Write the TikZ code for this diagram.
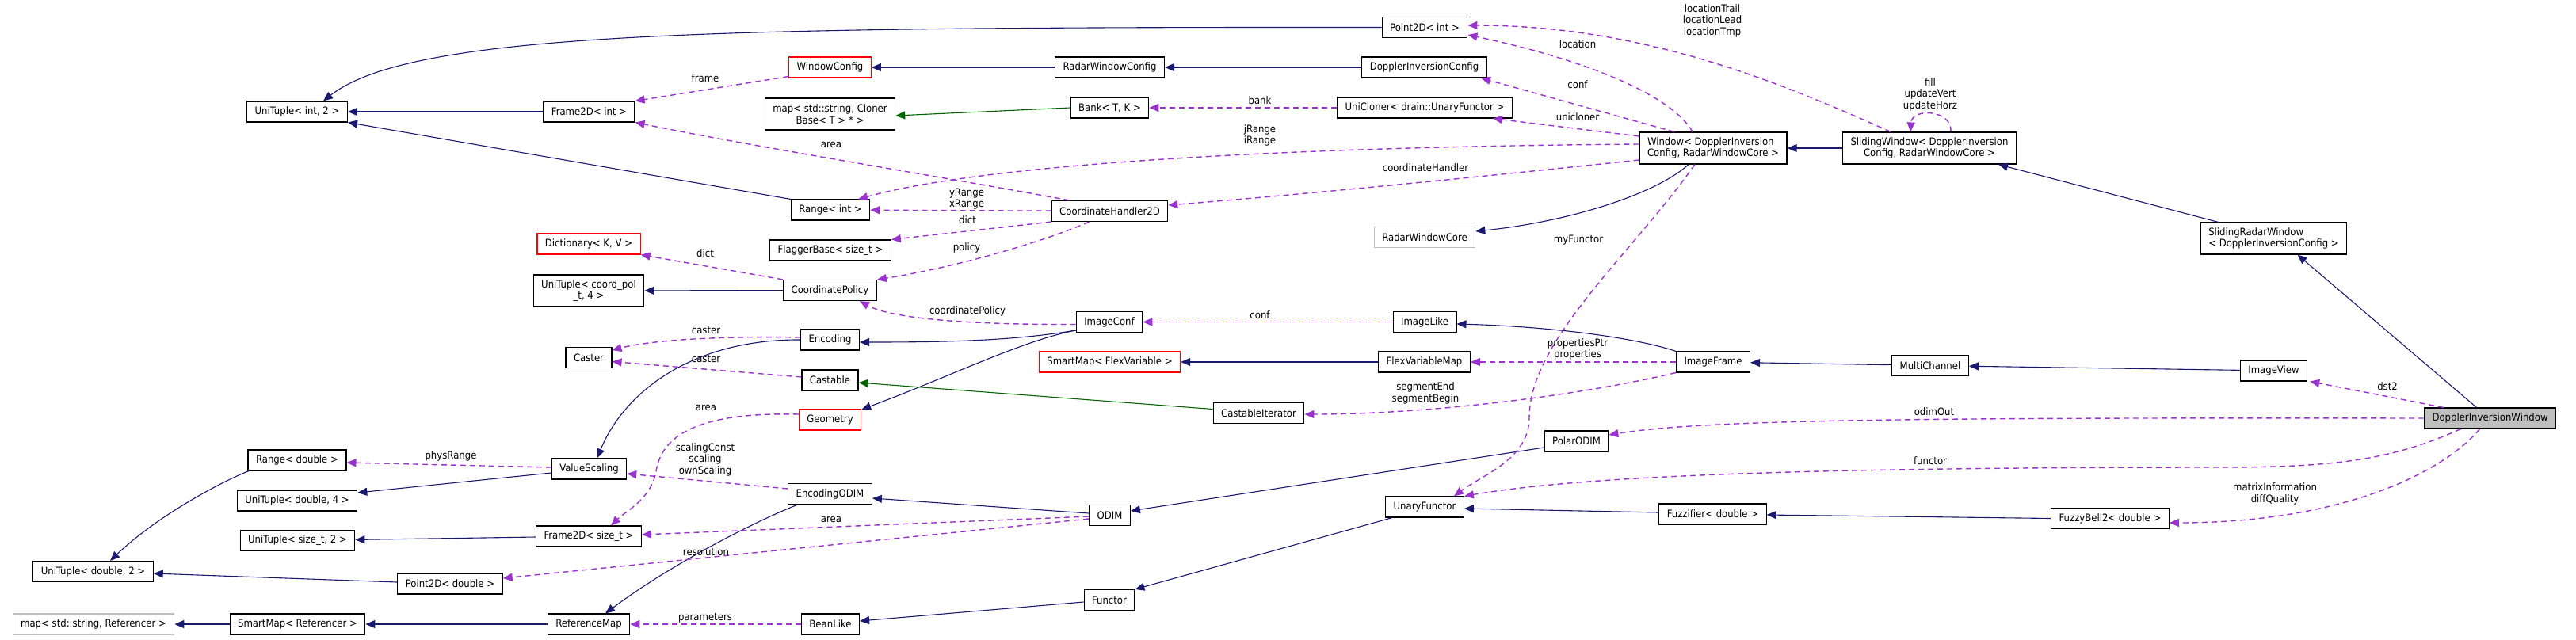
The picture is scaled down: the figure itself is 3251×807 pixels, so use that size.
\documentclass[tikz,border=0pt]{standalone}
\usepackage{fontspec}
\setmainfont{DejaVu Sans Condensed}
\usetikzlibrary{arrows.meta}
\definecolor{cInh}{HTML}{191970}
\definecolor{cProt}{HTML}{006400}
\definecolor{cUse}{HTML}{9A32CD}
\definecolor{cGrey}{HTML}{BFBFBF}

\begin{document}
\begin{tikzpicture}[x=1pt, y=-1pt,
  font=\fontsize{13}{14.5}\selectfont,
  cls/.style={draw=black, line width=1.1pt, fill=white, inner xsep=10pt, inner ysep=0pt,
    minimum height=26pt, align=center},
  cls2/.style={cls, minimum height=40pt},
  clsred/.style={cls, draw=red},
  clsgrey/.style={cls, draw=cGrey},
  clsmain/.style={cls, fill=cGrey},
  inh/.style={draw=cInh, line width=1.1pt, -{Triangle[length=12pt, width=10pt]}},
  prot/.style={inh, draw=cProt, -{Triangle[length=12pt, width=10pt, fill=cProt]}},
  use/.style={draw=cUse, line width=1.4pt, dash pattern=on 7pt off 5pt,
    -{Triangle[length=12pt, width=10pt, fill=cUse, sep=0pt]}},
  lbl/.style={inner sep=0pt, align=center},
]
\useasboundingbox (0,0) rectangle (3251,807);

% classes
\node[cls] (ut_int2) at (375,141) {UniTuple< int, 2 >};
\node[cls] (fr_int) at (743.5,141) {Frame2D< int >};
\node[cls] (pt_int) at (1798,34.5) {Point2D< int >};
\node[clsred] (wincfg) at (1047.5,85) {WindowConfig};
\node[cls] (rwincfg) at (1400.5,85) {RadarWindowConfig};
\node[cls] (dicfg) at (1797.5,85) {DopplerInversionConfig};
\node[clsgrey, cls2] (mapcl) at (1047.5,144) {map< std::string, Cloner\\Base< T > * >};
\node[cls] (bank) at (1400.5,136) {Bank< T, K >};
\node[cls] (unicl) at (1798,136) {UniCloner< drain::UnaryFunctor >};
\node[cls2, align=left] (win) at (2162,187) {Window< DopplerInversion\\Config, RadarWindowCore >};
\node[cls2] (swin) at (2435,187) {SlidingWindow< DopplerInversion\\Config, RadarWindowCore >};
\node[cls] (rng_int) at (1048,265) {Range< int >};
\node[cls] (ch2d) at (1400.5,266.5) {CoordinateHandler2D};
\node[cls] (flag) at (1048,316) {FlaggerBase< size\_t >};
\node[clsred] (dict) at (743,308) {Dictionary< K, V >};
\node[cls2] (utcoord) at (743,367) {UniTuple< coord\_pol\\\_t, 4 >};
\node[cls] (cpol) at (1047.5,366.5) {CoordinatePolicy};
\node[clsgrey] (rwcore) at (1798,299.5) {RadarWindowCore};
\node[cls] (imgconf) at (1400,406.5) {ImageConf};
\node[cls] (imglike) at (1798,406.5) {ImageLike};
\node[cls] (enc) at (1047.5,429) {Encoding};
\node[cls] (caster) at (743,451.5) {Caster};
\node[cls] (castable) at (1047.5,480) {Castable};
\node[clsred] (smflex) at (1400.5,457) {SmartMap< FlexVariable >};
\node[cls] (flexmap) at (1797.5,457) {FlexVariableMap};
\node[cls] (imgfr) at (2162,457) {ImageFrame};
\node[cls] (multi) at (2436,461.5) {MultiChannel};
\node[cls] (imgview) at (2869.5,468) {ImageView};
\node[cls2, align=left] (srwin) at (2869.5,301) {SlidingRadarWindow\\< DopplerInversionConfig >};
\node[clsmain] (diw) at (3142.5,528) {DopplerInversionWindow};
\node[clsred] (geom) at (1047.5,530) {Geometry};
\node[cls] (castit) at (1588.5,521.5) {CastableIterator};
\node[cls] (podim) at (1989.5,557) {PolarODIM};
\node[cls] (rng_d) at (375,581) {Range< double >};
\node[cls] (valsc) at (743.5,592) {ValueScaling};
\node[cls] (ut_d4) at (375,632) {UniTuple< double, 4 >};
\node[cls] (ut_sz2) at (375.5,682.5) {UniTuple< size\_t, 2 >};
\node[cls] (fr_sz) at (743,677) {Frame2D< size\_t >};
\node[cls] (ut_d2) at (117.5,721.5) {UniTuple< double, 2 >};
\node[cls] (pt_d) at (568,737) {Point2D< double >};
\node[clsgrey] (mapref) at (118,788) {map< std::string, Referencer >};
\node[cls] (smref) at (375.5,788) {SmartMap< Referencer >};
\node[cls] (refmap) at (743,788) {ReferenceMap};
\node[cls] (encodim) at (1047.5,623.5) {EncodingODIM};
\node[cls] (odim) at (1400.5,650.5) {ODIM};
\node[cls] (functor) at (1400,757.5) {Functor};
\node[cls] (bean) at (1048,788) {BeanLike};
\node[cls] (unary) at (1798,640) {UnaryFunctor};
\node[cls] (fuzz) at (2161.5,649) {Fuzzifier< double >};
\node[cls] (fbell) at (2663,654.5) {FuzzyBell2< double >};

% inheritance
\draw[inh] (pt_int.west) .. controls (900,34) and (520,40) .. ([xshift=33pt]ut_int2.north);
\draw[inh] (fr_int) -- (ut_int2);
\draw[inh] (rng_int.north west) -- (ut_int2.south east);
\draw[inh] (rwincfg) -- (wincfg);
\draw[inh] (dicfg) -- (rwincfg);
\draw[prot] (bank.west) -- ([yshift=-2pt]mapcl.east);
\draw[inh] (swin) -- (win);
\draw[inh] ([xshift=23pt]srwin.north west) -- ([xshift=87pt]swin.south);
\draw[inh] ([xshift=-17pt]diw.north) -- ([xshift=30pt]srwin.south);
\draw[inh] ([xshift=-31pt]win.south) .. controls (2090,245) and (1980,280) .. ([yshift=7.5pt]rwcore.east);
\draw[inh] (cpol) -- (utcoord);
\draw[inh] ([yshift=-10.5pt]imgconf.west) .. controls (1280,430) and (1200,432) .. ([yshift=-3pt]enc.east);
\draw[inh] ([yshift=-10.5pt]imgconf.west) .. controls (1290,430) and (1200,475) .. ([yshift=13pt]geom.east);
\draw[inh] (enc.west) .. controls (880,428) and (790,490) .. ([xshift=10pt]valsc.north);
\draw[inh] ([xshift=-47pt]imgfr.north) .. controls (2060,425) and (1950,412) .. ([yshift=-2.5pt]imglike.east);
\draw[inh] (flexmap) -- (smflex);
\draw[prot] ([yshift=5pt]castit.west) -- ([yshift=-3pt]castable.east);
\draw[inh] (multi) -- (imgfr);
\draw[inh] (imgview) -- (multi);
\draw[inh] ([yshift=-5pt]valsc.west) -- ([yshift=10pt]ut_d4.east);
\draw[inh] ([xshift=-61pt]rng_d.south) .. controls (280,608) and (200,650) .. ([xshift=21.5pt]ut_d2.north);
\draw[inh] (fr_sz) -- (ut_sz2);
\draw[inh] ([yshift=2pt]pt_d.west) -- ([yshift=-2.5pt]ut_d2.east);
\draw[inh] (smref) -- (mapref);
\draw[inh] (refmap) -- (smref);
\draw[inh] ([xshift=-40.5pt]encodim.south) .. controls (960,655) and (850,710) .. ([xshift=21pt]refmap.north);
\draw[inh] ([yshift=2.5pt]odim.west) -- ([yshift=-5.5pt]encodim.east);
\draw[inh] ([yshift=-8pt]podim.west) -- ([yshift=5.5pt]odim.east);
\draw[inh] ([xshift=9pt]unary.south west) -- (functor.north east);
\draw[inh] ([yshift=-2.5pt]functor.west) -- ([yshift=4pt]bean.east);
\draw[inh] ([yshift=2pt]fuzz.west) -- ([yshift=-2pt]unary.east);
\draw[inh] (fbell.west) -- ([yshift=-1pt]fuzz.east);

% members
\draw[use] ([yshift=2pt]wincfg.south west) -- (fr_int.north east);
\draw[use] ([xshift=-51pt]ch2d.north) .. controls (1200,225) and (950,185) .. (fr_int.south east);
\draw[use] ([xshift=-26pt]win.north) .. controls (2110,120) and (2000,75) .. ([yshift=-9.5pt]pt_int.east);
\draw[use] ([xshift=-49pt]swin.north) .. controls (2260,110) and (2080,32) .. ([yshift=2.5pt]pt_int.east);
\draw[use] ([xshift=-49pt]win.north) -- ([xshift=71.5pt]dicfg.south);
\draw[use] ([yshift=15pt]win.west) -- ([xshift=-25pt]unicl.south east);
\draw[use] (unicl) -- (bank);
\draw[use] ([yshift=5pt]win.west) .. controls (1650,185) and (1250,205) .. ([xshift=-15pt]rng_int.north east);
\draw[use] ([yshift=-15pt]win.west) .. controls (1850,225) and (1650,245) .. ([yshift=7.5pt]ch2d.east);
\draw[use] (ch2d) -- (rng_int);
\draw[use] (ch2d.south west) -- (flag.north east);
\draw[use] ([xshift=-26pt]ch2d.south) .. controls (1330,300) and (1220,335) .. (cpol.north east);
\draw[use] (cpol.north west) -- (dict.south east);
\draw[use] ([yshift=-3pt]imgconf.west) .. controls (1250,410) and (1130,405) .. ([xshift=37.5pt]cpol.south);
\draw[use] (imglike) -- (imgconf);
\draw[use] ([yshift=3pt]enc.west) .. controls (900,424) and (820,430) .. ([yshift=9.5pt]caster.east);
\draw[use] ([yshift=4pt]castable.west) -- ([yshift=-5pt]caster.east);
\draw[use] (imgfr) -- (flexmap);
\draw[use] ([xshift=-47pt]imgfr.south) .. controls (1990,500) and (1800,523) .. ([yshift=-1.5pt]castit.east);
\draw[use] ([xshift=-23pt]win.south) .. controls (2060,320) and (1930,430) .. (1930,527)
  .. controls (1930,580) and (1870,600) .. ([xshift=37pt]unary.north);
\draw[use] ([xshift=25pt]diw.north west) -- ([xshift=3pt]imgview.south east);
\draw[use] (diw.west) .. controls (2400,527) and (2150,530) .. ([yshift=8pt]podim.east);
\draw[use] ([xshift=-37pt]diw.south) .. controls (3020,580) and (2950,590) .. (2800,590)
  .. controls (2300,590) and (2000,600) .. (unary.north east);
\draw[use] ([xshift=-13pt]diw.south) .. controls (3080,600) and (2950,660) .. ([yshift=-5.5pt]fbell.east);
\draw[use] ([yshift=6.5pt]encodim.west) -- ([yshift=-6pt]valsc.east);
\draw[use] ([yshift=7pt]geom.west) .. controls (880,520) and (835,550) .. (828,595)
  .. controls (822,630) and (790,645) .. ([xshift=28pt]fr_sz.north);
\draw[use] ([yshift=-1.5pt]odim.west) -- ([yshift=2pt]fr_sz.east);
\draw[use] ([yshift=-4.5pt]odim.west) -- ([yshift=7pt]pt_d.east);
\draw[use] (bean) -- (refmap);
\draw[use] ([yshift=2pt]valsc.west) -- ([yshift=-3pt]rng_d.east);
\draw[use] ([xshift=27pt]swin.north) .. controls (2464,138) and (2413,136) .. ([xshift=-24pt]swin.north);

% member labels
\node[lbl] (l_frame) at (890,99) {frame};
\node[lbl] (l_area1) at (1049,183) {area};
\node[lbl] (l_loc) at (1991,56) {location};
\node[lbl] (l_loctr) at (2161,26) {locationTrail\\locationLead\\locationTmp};
\node[lbl] (l_conf1) at (1991,107) {conf};
\node[lbl] (l_unicl) at (1991,148) {unicloner};
\node[lbl] (l_bank) at (1590,127) {bank};
\node[lbl] (l_ijrng) at (1590,171) {jRange\\iRange};
\node[lbl] (l_coordh) at (1799,212) {coordinateHandler};
\node[lbl] (l_xyrng) at (1220,251) {yRange\\xRange};
\node[lbl] (l_dict1) at (1221,278) {dict};
\node[lbl] (l_policy) at (1220,313) {policy};
\node[lbl] (l_dict2) at (890,320) {dict};
\node[lbl] (l_cpol) at (1221,393) {coordinatePolicy};
\node[lbl] (l_conf2) at (1590,398) {conf};
\node[lbl] (l_cast1) at (891,417) {caster};
\node[lbl] (l_cast2) at (891,453) {caster};
\node[lbl] (l_props) at (1991,441) {propertiesPtr\\properties};
\node[lbl] (l_seg) at (1799,496.5) {segmentEnd\\segmentBegin};
\node[lbl] (l_myfun) at (1992,303) {myFunctor};
\node[lbl] (l_dst) at (3013,488) {dst2};
\node[lbl] (l_odim) at (2441,520) {odimOut};
\node[lbl] (l_fun) at (2436,582) {functor};
\node[lbl] (l_matrix) at (2871,623.5) {matrixInformation\\diffQuality};
\node[lbl] (l_scal) at (890,580) {scalingConst\\scaling\\ownScaling};
\node[lbl] (l_area2) at (891,515) {area};
\node[lbl] (l_area3) at (1049,656) {area};
\node[lbl] (l_res) at (891,697) {resolution};
\node[lbl] (l_param) at (890,780) {parameters};
\node[lbl] (l_phys) at (569,576) {physRange};
\node[lbl] (l_fill) at (2436,119) {fill\\updateVert\\updateHorz};
\end{tikzpicture}
\end{document}
